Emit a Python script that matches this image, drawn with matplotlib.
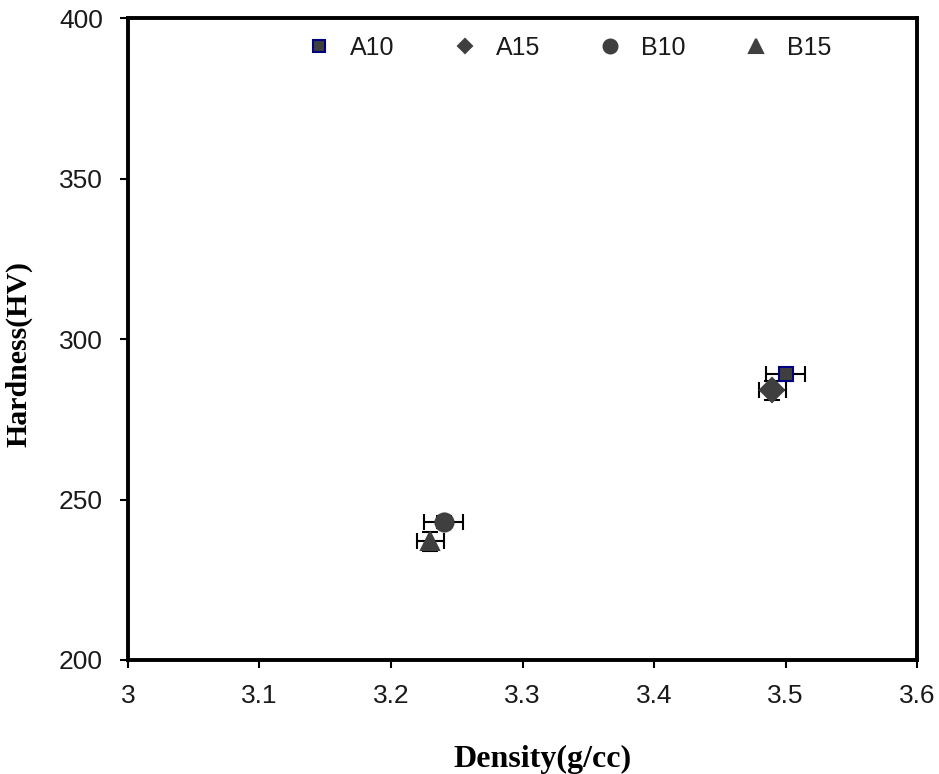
import matplotlib
matplotlib.use("Agg")
import matplotlib.pyplot as plt
from matplotlib.lines import Line2D

# Density / hardness measurements per composite
labels = ["A10", "A15", "B10", "B15"]
density = [3.50, 3.49, 3.24, 3.23]
density_err = [0.015, 0.010, 0.015, 0.010]
hardness = [289, 284, 243, 237]
hardness_err = [2, 3, 2, 3]
markers = ["s", "D", "o", "^"]
marker_sizes = [10, 12, 13, 13]
face_colors = ["#3f3f3f", "#3f3f3f", "#3f3f3f", "#3f3f3f"]
edge_colors = ["#000080", "#3f3f3f", "#3f3f3f", "#3f3f3f"]

x_ticks = [3.0, 3.1, 3.2, 3.3, 3.4, 3.5, 3.6]
x_tick_labels = ["3", "3.1", "3.2", "3.3", "3.4", "3.5", "3.6"]
y_ticks = [200, 250, 300, 350, 400]

fig = plt.figure(figsize=(9.39, 7.74), dpi=100)
ax = fig.add_axes([0.1363, 0.1473, 0.8403, 0.8294])

# draw back to front so the square sits on top of the diamond
order = [1, 0, 3, 2]
for i in order:
    ax.errorbar(density[i], hardness[i], xerr=density_err[i], yerr=hardness_err[i],
                fmt="none", ecolor="black", elinewidth=1.5, capsize=6, capthick=1.5,
                zorder=2)
    ax.plot(density[i], hardness[i], linestyle="none", marker=markers[i],
            markersize=marker_sizes[i], markerfacecolor=face_colors[i],
            markeredgecolor=edge_colors[i], markeredgewidth=1.5, zorder=3)

ax.set_xlim(3.0, 3.6)
ax.set_ylim(200, 400)
ax.set_xticks(x_ticks)
ax.set_xticklabels(x_tick_labels)
ax.set_yticks(y_ticks)

for sp in ax.spines.values():
    sp.set_linewidth(2.8)
    sp.set_color("black")

ax.tick_params(axis="both", direction="out", length=6, width=1.5,
               labelsize=19, colors="black")
ax.tick_params(axis="x", pad=11)
ax.tick_params(axis="y", pad=12)
for lab in ax.get_xticklabels() + ax.get_yticklabels():
    lab.set_fontfamily("Liberation Sans")
    lab.set_color("#1a1a1a")

ax.set_xlabel("Density(g/cc)", fontfamily="Liberation Serif", fontweight="bold",
              fontsize=23)
ax.set_ylabel("Hardness(HV)", fontfamily="Liberation Serif", fontweight="bold",
              fontsize=21.5)
ax.xaxis.set_label_coords(0.525, -0.133)
ax.yaxis.set_label_coords(-0.121, 0.476)

handles = [
    Line2D([], [], linestyle="none", marker=markers[i], markersize=[9, 7, 10, 10][i],
           markerfacecolor=face_colors[i], markeredgecolor=edge_colors[i],
           markeredgewidth=1.5)
    for i in range(len(labels))
]
leg = ax.legend(handles, labels, loc="center left", bbox_to_anchor=(0.226, 0.953),
                ncol=4, frameon=False, handlelength=1.0, handletextpad=0.75,
                columnspacing=2.3, borderpad=0, borderaxespad=0,
                prop={"family": "Liberation Sans", "size": 18})
for t in leg.get_texts():
    t.set_color("#1a1a1a")

fig.savefig("out.png", dpi=100, facecolor="white")
